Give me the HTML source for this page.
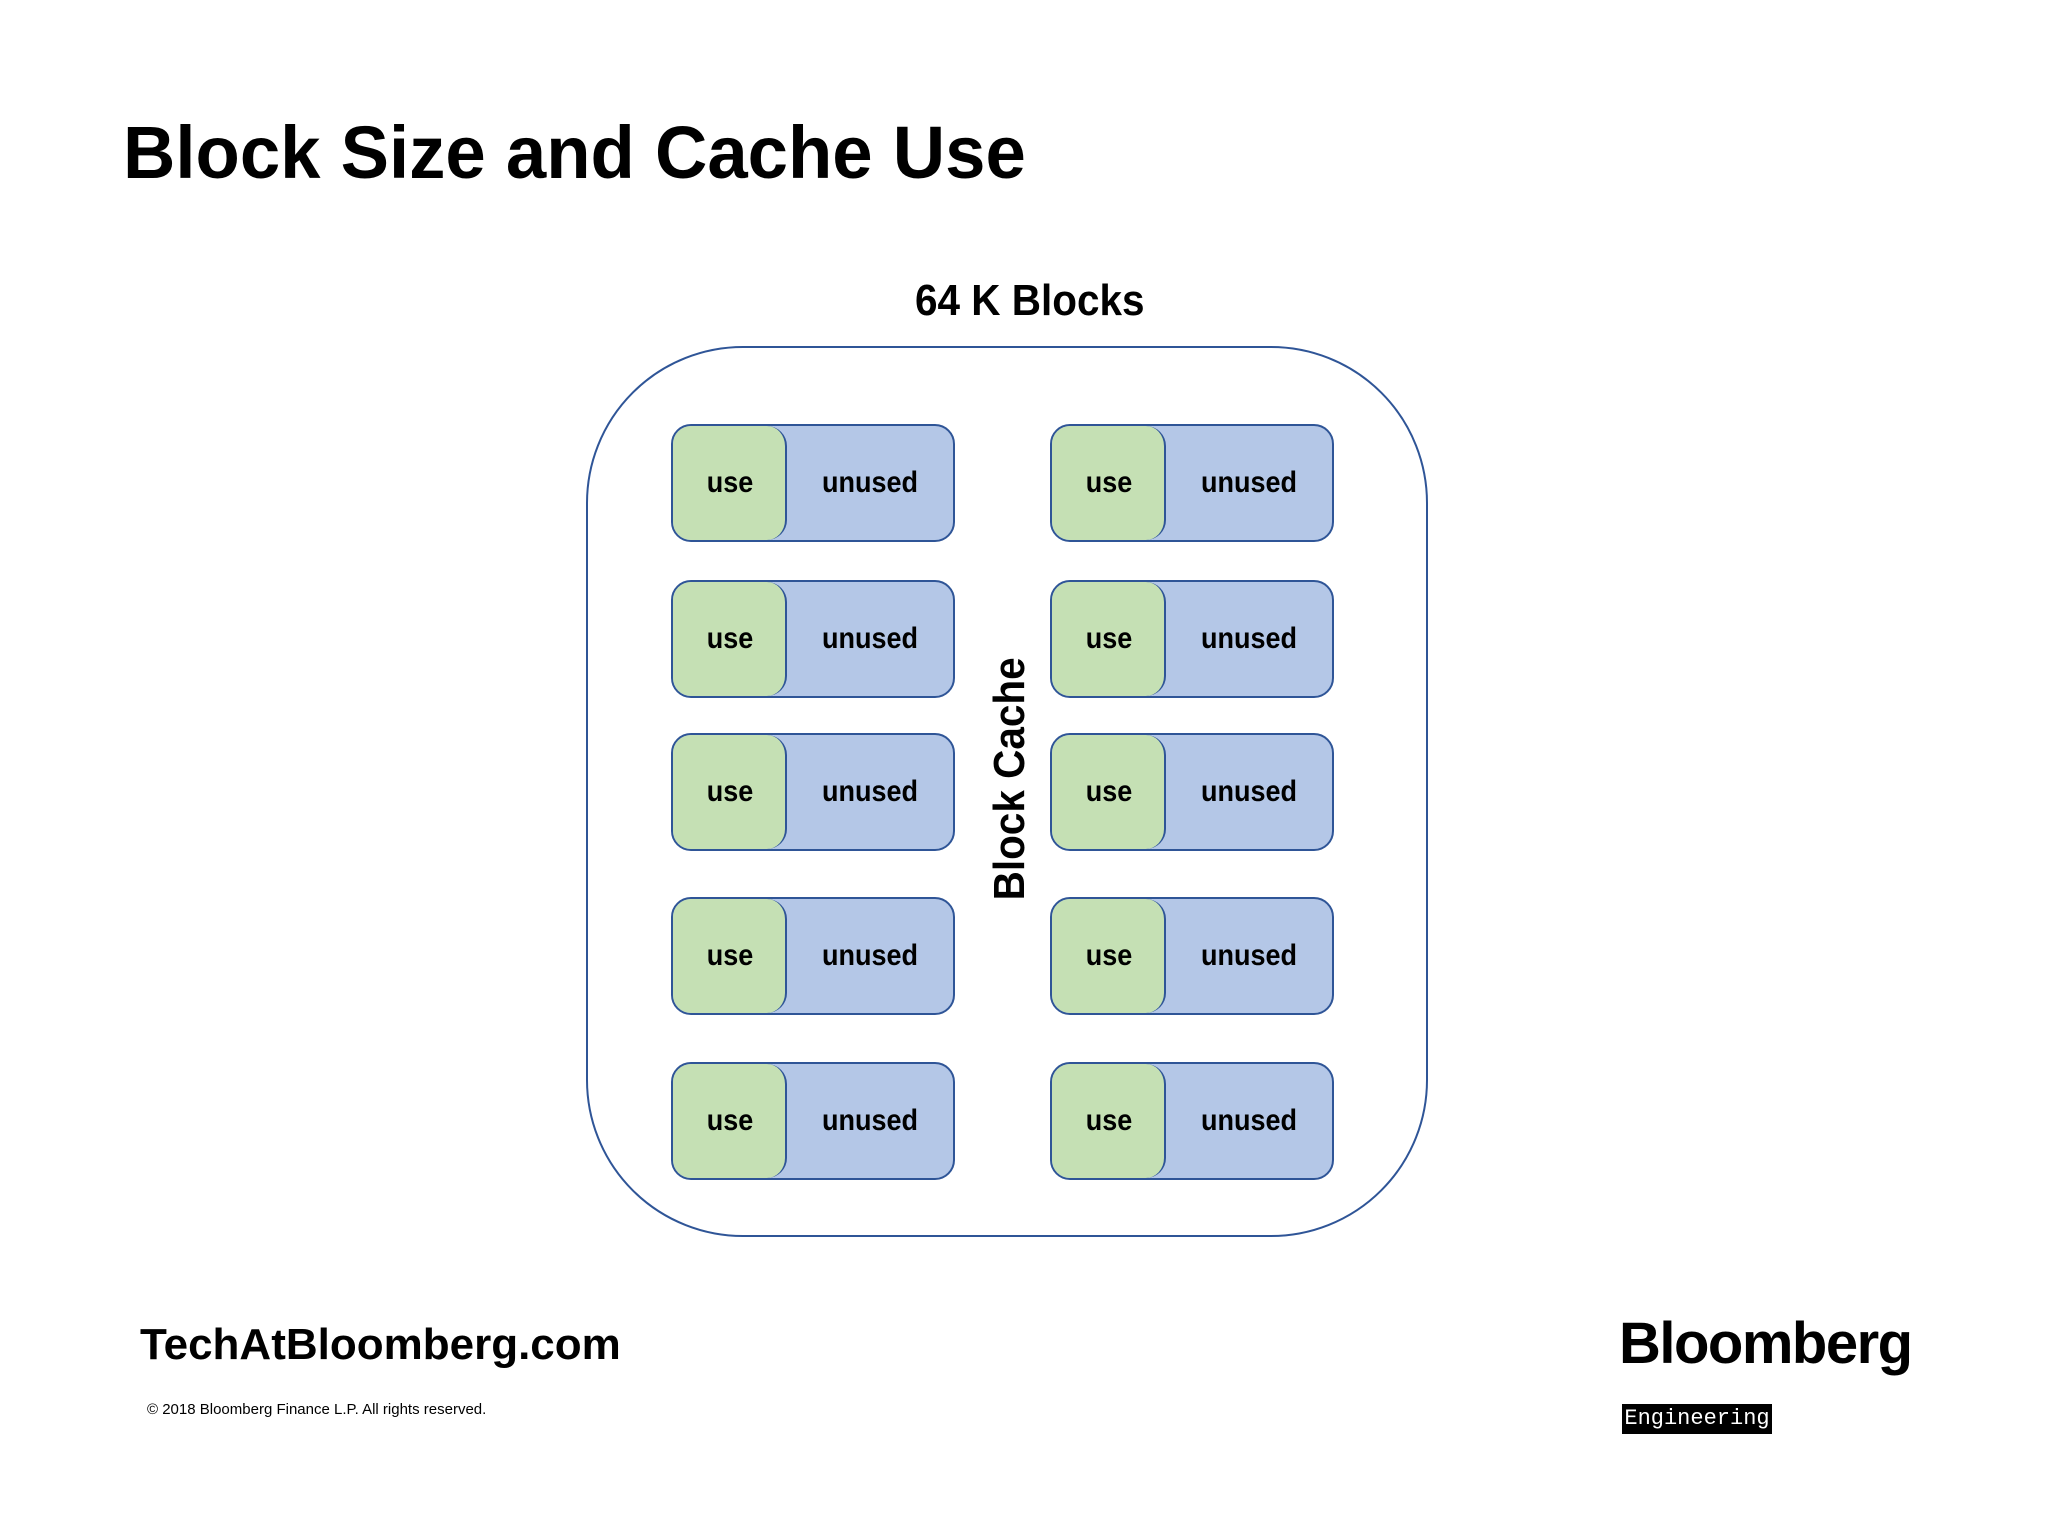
<!DOCTYPE html>
<html><head><meta charset="utf-8"><style>
body{margin:0;width:2048px;height:1536px;background:#fff;position:relative;overflow:hidden;font-family:"Liberation Sans",sans-serif}
.t{position:absolute;white-space:nowrap}
.outer{position:absolute;left:586px;top:346px;width:838px;height:887px;border:2.5px solid #2f5597;border-radius:157px}
.blk{position:absolute;width:280px;height:114px;border:2.5px solid #2f5597;border-radius:20px;background:#b4c7e7;overflow:hidden}
.g{position:absolute;left:0;top:0;width:112px;height:114px;background:#c5e0b4;border-right:2.5px solid #2f5597;border-radius:0 20px 20px 0}
.u1,.u2{position:absolute;top:0;line-height:114px;font-weight:bold;font-size:30px;color:#000;transform:scaleX(0.9)}
.u1{left:0;width:114px;text-align:center}
.u2{left:114px;width:166px;text-align:center}
</style></head><body>
<div class="t" style="left:123px;top:110px;font-size:74px;font-weight:bold;transform-origin:left;transform:scaleX(0.98)">Block Size and Cache Use</div>
<div class="t" style="left:905px;top:276px;font-size:44px;font-weight:bold;transform:scaleX(0.92)">64 K Blocks</div>
<div class="outer"></div>
<div class="t" style="left:890px;top:765px;width:240px;text-align:center;font-size:44px;font-weight:bold;transform:rotate(-90deg) scaleX(0.92)">Block Cache</div>

<div class="blk" style="left:671px;top:424px"><div class="g"></div><div class="u1">use</div><div class="u2">unused</div></div>
<div class="blk" style="left:1050px;top:424px"><div class="g"></div><div class="u1">use</div><div class="u2">unused</div></div>
<div class="blk" style="left:671px;top:580px"><div class="g"></div><div class="u1">use</div><div class="u2">unused</div></div>
<div class="blk" style="left:1050px;top:580px"><div class="g"></div><div class="u1">use</div><div class="u2">unused</div></div>
<div class="blk" style="left:671px;top:733px"><div class="g"></div><div class="u1">use</div><div class="u2">unused</div></div>
<div class="blk" style="left:1050px;top:733px"><div class="g"></div><div class="u1">use</div><div class="u2">unused</div></div>
<div class="blk" style="left:671px;top:897px"><div class="g"></div><div class="u1">use</div><div class="u2">unused</div></div>
<div class="blk" style="left:1050px;top:897px"><div class="g"></div><div class="u1">use</div><div class="u2">unused</div></div>
<div class="blk" style="left:671px;top:1062px"><div class="g"></div><div class="u1">use</div><div class="u2">unused</div></div>
<div class="blk" style="left:1050px;top:1062px"><div class="g"></div><div class="u1">use</div><div class="u2">unused</div></div>

<div class="t" style="left:140px;top:1320px;font-size:44px;font-weight:bold;transform-origin:left;transform:scaleX(1.0)">TechAtBloomberg.com</div>
<div class="t" style="left:147px;top:1401px;font-size:15px">© 2018 Bloomberg Finance L.P. All rights reserved.</div>
<div class="t" style="left:1619px;top:1310px;font-size:58px;font-weight:bold;letter-spacing:-1.5px">Bloomberg</div>
<div class="t" style="left:1622px;top:1404px;width:150px;height:30px;background:#000;color:#fff;font-family:'Liberation Mono',monospace;font-size:22px;line-height:30px;text-align:center">Engineering</div>
</body></html>
